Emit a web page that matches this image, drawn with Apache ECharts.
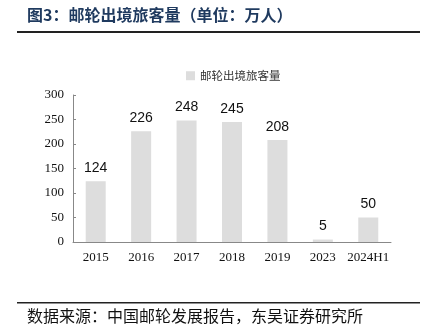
<!DOCTYPE html>
<html>
<head>
<meta charset="utf-8">
<script src="https://cdn.jsdelivr.net/npm/echarts@6/dist/echarts.min.js"></script>
<style>
  html, body { margin: 0; padding: 0; background: #fff; }
  #chart { width: 427px; height: 336px; }
</style>
</head>
<body>
<div id="chart"></div>
<script>
// Cruise outbound passengers (10k persons)
const categories = ['2015', '2016', '2017', '2018', '2019', '2023', '2024H1'];
const passengers = [124, 226, 248, 245, 208, 5, 50];
const seriesName = '邮轮出境旅客量';
const titleText = '图3：邮轮出境旅客量（单位：万人）';
const sourceText = '数据来源：中国邮轮发展报告，东吴证券研究所';

const serif = '"Times New Roman", "Liberation Serif", "Noto Sans CJK SC", serif';
const cjk = '"Noto Sans CJK SC", sans-serif';

const chart = echarts.init(document.getElementById('chart'));
chart.setOption({
  animation: false,
  backgroundColor: '#fff',
  graphic: [
    { type: 'text', left: 27, top: 7, style: { text: titleText, font: 'bold 16px ' + cjk, fill: '#1f3a5f' } },
    { type: 'rect', shape: { x: 17, y: 31, width: 403, height: 2 }, style: { fill: '#222' } },
    { type: 'rect', shape: { x: 17, y: 302, width: 403, height: 1.5 }, style: { fill: '#222' } },
    { type: 'text', left: 27, top: 308, style: { text: sourceText, font: '16px ' + cjk, fill: '#111' } }
  ],
  legend: {
    data: [seriesName],
    left: 181, top: 65,
    icon: 'rect', itemWidth: 9, itemHeight: 9, itemGap: 3,
    textStyle: { fontFamily: cjk, fontSize: 11.5, color: '#333' }
  },
  grid: { left: 73, right: 36, top: 95, bottom: 94 },
  xAxis: {
    type: 'category',
    data: categories,
    axisLine: { lineStyle: { color: '#888' } },
    axisTick: { inside: true, length: 3, lineStyle: { color: '#888' } },
    axisLabel: { interval: 0, fontFamily: serif, fontSize: 13, color: '#111', margin: 9 }
  },
  yAxis: {
    type: 'value',
    min: 0, max: 300, interval: 50,
    splitLine: { show: false },
    axisLine: { show: true, lineStyle: { color: '#888' } },
    axisTick: { show: true, inside: true, length: 3, lineStyle: { color: '#888' } },
    axisLabel: { fontFamily: serif, fontSize: 13, color: '#111', margin: 9 }
  },
  series: [{
    name: seriesName,
    type: 'bar',
    data: passengers,
    barWidth: 20,
    itemStyle: { color: '#dddddd' },
    label: {
      show: true, position: 'top', distance: 6,
      fontFamily: '"Liberation Sans", Arial, sans-serif', fontSize: 14, color: '#111'
    }
  }]
});
</script>
</body>
</html>
